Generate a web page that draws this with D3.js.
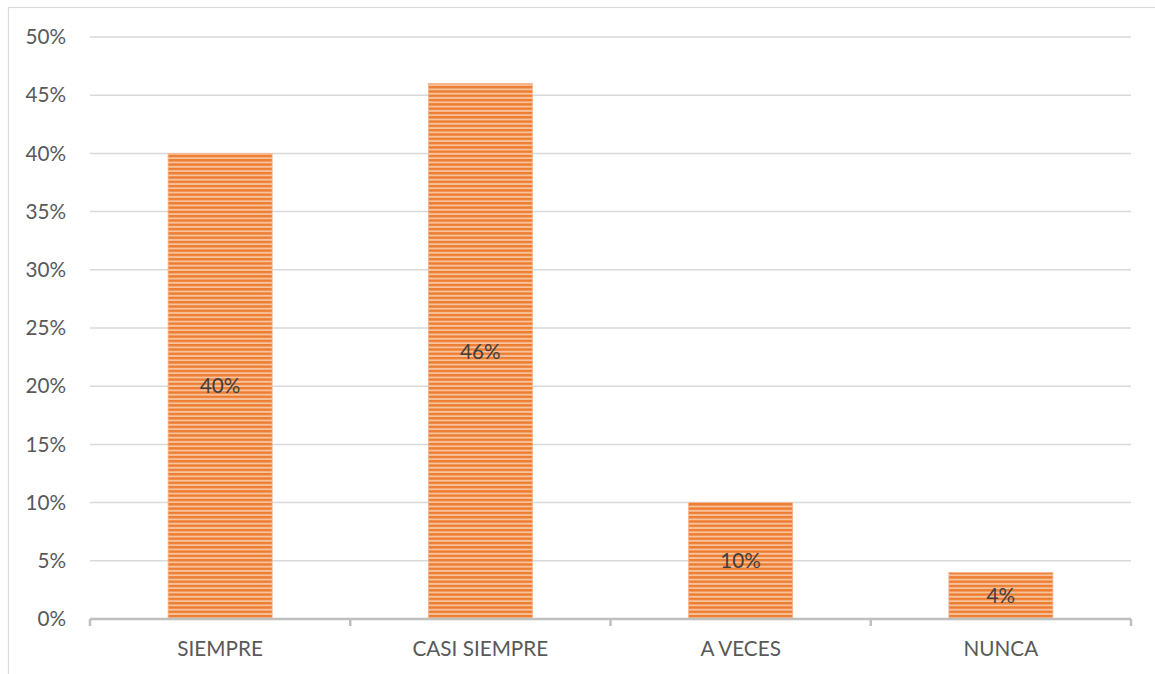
<!DOCTYPE html>
<html>
<head>
<meta charset="utf-8">
<script src="https://cdn.jsdelivr.net/npm/d3@7"></script>
<style>
  html, body { margin: 0; padding: 0; background: #fff; }
  svg { display: block; }
  text { font-family: Lato, "Open Sans", "Liberation Sans", sans-serif; }
</style>
</head>
<body>
<svg id="chart" width="1155" height="674"></svg>
<script>
// Survey answers and their share of responses
const categories = ["SIEMPRE", "CASI SIEMPRE", "A VECES", "NUNCA"];
const values = [0.40, 0.46, 0.10, 0.04];
const valueLabels = ["40%", "46%", "10%", "4%"];
const yTicks = [0, 0.05, 0.10, 0.15, 0.20, 0.25, 0.30, 0.35, 0.40, 0.45, 0.50];

const svg = d3.select("#chart");
const margin = { left: 90, right: 1131, top: 37, bottom: 619 };
const fontSize = 20.7;

// Outer chart frame
svg.append("rect")
  .attr("x", 8.5).attr("y", 7.5)
  .attr("width", 1200).attr("height", 700)
  .attr("fill", "none").attr("stroke", "#D9D9D9").attr("stroke-width", 1.2);

// Horizontal stripe fill for bars
const defs = svg.append("defs");
const pat = defs.append("pattern")
  .attr("id", "stripes").attr("patternUnits", "userSpaceOnUse")
  .attr("width", 8).attr("height", 4.3);
pat.append("rect").attr("width", 8).attr("height", 4.3).attr("fill", "#F8C29D");
pat.append("rect").attr("y", 0).attr("width", 8).attr("height", 2.4).attr("fill", "#ED7D31");

const xOuter = d3.scaleBand().domain(categories).range([margin.left, margin.right]);
const y = d3.scaleLinear().domain([0, 0.5]).range([margin.bottom, margin.top]);

// Gridlines
svg.append("g").selectAll("line").data(yTicks.filter(d => d > 0)).join("line")
  .attr("x1", margin.left).attr("x2", margin.right)
  .attr("y1", d => y(d)).attr("y2", d => y(d))
  .attr("stroke", "#D9D9D9").attr("stroke-width", 1.5);

// Y tick labels
svg.append("g").selectAll("text").data(yTicks).join("text")
  .attr("x", 66).attr("y", d => y(d)).attr("dy", "0.35em")
  .attr("text-anchor", "end").attr("font-size", fontSize).attr("fill", "#595959")
  .text(d => d3.format(".0%")(d));

// Bars
const bw = 104;
svg.append("g").selectAll("rect").data(values).join("rect")
  .attr("x", (d, i) => xOuter(categories[i]) + xOuter.bandwidth() / 2 - bw / 2)
  .attr("width", bw)
  .attr("y", d => y(d))
  .attr("height", d => y(0) - y(d))
  .attr("fill", "url(#stripes)")
  .attr("stroke", "#F6B38A").attr("stroke-width", 0.8);

// Value labels
svg.append("g").selectAll("text").data(values).join("text")
  .attr("x", (d, i) => xOuter(categories[i]) + xOuter.bandwidth() / 2)
  .attr("y", d => y(d / 2)).attr("dy", "0.35em")
  .attr("text-anchor", "middle").attr("font-size", fontSize).attr("fill", "#404040")
  .text((d, i) => valueLabels[i]);

// X axis line with category separators
const xAxis = svg.append("g");
xAxis.append("line")
  .attr("x1", margin.left).attr("x2", margin.right)
  .attr("y1", y(0)).attr("y2", y(0))
  .attr("stroke", "#BFBFBF").attr("stroke-width", 2.5);
const bounds = categories.map(c => xOuter(c)).concat([margin.right]);
xAxis.selectAll("line.tick").data(bounds).join("line").attr("class", "tick")
  .attr("x1", d => d).attr("x2", d => d)
  .attr("y1", y(0)).attr("y2", y(0) + 7)
  .attr("stroke", "#BFBFBF").attr("stroke-width", 2.5);

// Category labels
xAxis.selectAll("text").data(categories).join("text")
  .attr("x", c => xOuter(c) + xOuter.bandwidth() / 2)
  .attr("y", 656)
  .attr("text-anchor", "middle").attr("font-size", fontSize).attr("fill", "#595959")
  .text(c => c);
</script>
</body>
</html>
